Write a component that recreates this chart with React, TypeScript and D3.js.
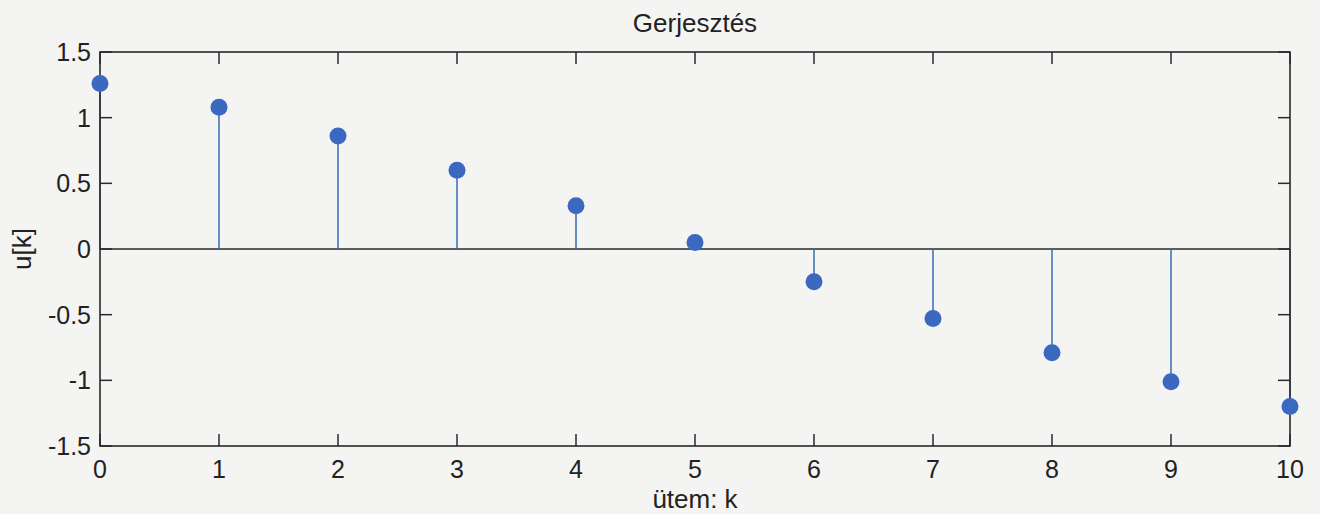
import React from "react";
import * as d3 from "d3";

const kValues = [0, 1, 2, 3, 4, 5, 6, 7, 8, 9, 10];
const uValues = [1.26, 1.08, 0.86, 0.6, 0.33, 0.05, -0.25, -0.53, -0.79, -1.01, -1.2];
const xTicks = [0, 1, 2, 3, 4, 5, 6, 7, 8, 9, 10];
const yTicks = [-1.5, -1, -0.5, 0, 0.5, 1, 1.5];
const titleText = "Gerjesztés";
const xLabelText = "ütem: k";
const yLabelText = "u[k]";

const W = 1320;
const H = 514;
const L = 100, R = 1290, T = 52, B = 446;
const font = "'Liberation Sans', Arial, sans-serif";

export default function App() {
  const x = d3.scaleLinear().domain([0, 10]).range([L, R]);
  const y = d3.scaleLinear().domain([-1.5, 1.5]).range([B, T]);
  const stemColor = "#3a6bb4";
  const dotColor = "#3b69c0";
  const axisColor = "#2a2a2a";
  const tickLen = 12;
  return (
    <svg width={W} height={H} style={{ position: "absolute", left: 0, top: 0, background: "#f4f4f2" }}>
      <rect x={0} y={0} width={W} height={H} fill="#f4f4f2" />
      {/* zero line */}
      <line x1={L} x2={R} y1={y(0)} y2={y(0)} stroke={axisColor} strokeWidth={1.5} />
      {/* stems */}
      {kValues.map((k, i) => (
        <line key={"s" + k} x1={x(k)} x2={x(k)} y1={y(0)} y2={y(uValues[i])} stroke={stemColor} strokeWidth={1.5} />
      ))}
      {/* box */}
      <rect x={L} y={T} width={R - L} height={B - T} fill="none" stroke={axisColor} strokeWidth={1.6} />
      {/* x ticks */}
      {xTicks.map((t) => (
        <g key={"xt" + t}>
          <line x1={x(t)} x2={x(t)} y1={B} y2={B - tickLen} stroke={axisColor} strokeWidth={1.5} />
          <line x1={x(t)} x2={x(t)} y1={T} y2={T + tickLen} stroke={axisColor} strokeWidth={1.5} />
          <text x={x(t)} y={478} textAnchor="middle" fontFamily={font} fontSize={25} fill="#222">{t}</text>
        </g>
      ))}
      {/* y ticks */}
      {yTicks.map((t) => (
        <g key={"yt" + t}>
          <line x1={L} x2={L + tickLen} y1={y(t)} y2={y(t)} stroke={axisColor} strokeWidth={1.5} />
          <line x1={R} x2={R - tickLen} y1={y(t)} y2={y(t)} stroke={axisColor} strokeWidth={1.5} />
          <text x={91} y={y(t) + 9} textAnchor="end" fontFamily={font} fontSize={25} fill="#222">{String(t)}</text>
        </g>
      ))}
      {/* markers */}
      {kValues.map((k, i) => (
        <circle key={"d" + k} cx={x(k)} cy={y(uValues[i])} r={8.5} fill={dotColor} />
      ))}
      <text x={(L + R) / 2} y={32} textAnchor="middle" fontFamily={font} fontSize={26} fill="#222">{titleText}</text>
      <text x={(L + R) / 2} y={508} textAnchor="middle" fontFamily={font} fontSize={26} fill="#222">{xLabelText}</text>
      <text transform={`translate(31, ${(T + B) / 2}) rotate(-90)`} textAnchor="middle" fontFamily={font} fontSize={26} fill="#222">{yLabelText}</text>
    </svg>
  );
}
